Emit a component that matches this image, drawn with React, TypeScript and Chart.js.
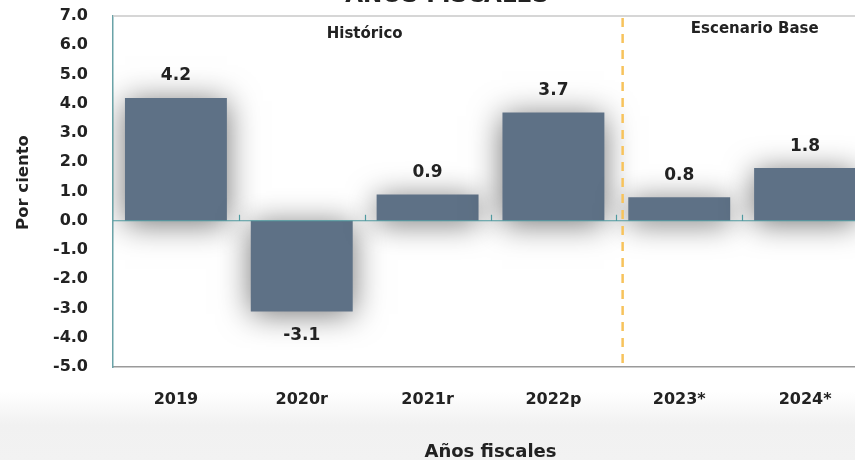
import React, { useEffect, useRef } from "react";
import { Chart, registerables } from "chart.js";

Chart.register(...registerables);

const categories = ["2019", "2020r", "2021r", "2022p", "2023*", "2024*"];
const growth = [4.2, -3.1, 0.9, 3.7, 0.8, 1.8];
const yMin = -5;
const yMax = 7;
const chartTitle = "AÑOS FISCALES";
const yTitle = "Por ciento";
const xTitle = "Años fiscales";
const sectionLabels = [
  { text: "Histórico", at: 1.5, dy: 18 },
  { text: "Escenario Base", at: 4.6, dy: 13 },
];
const dividerAt = 3.55;

const FONT = "'DejaVu Sans', sans-serif";
const TEXT = "#222222";

const decorPlugin = {
  id: "decor",
  beforeDatasetsDraw(chart: any) {
    const { ctx, chartArea } = chart;
    ctx.save();
    ctx.strokeStyle = "#c9c9c9";
    ctx.lineWidth = 1.5;
    ctx.beginPath();
    ctx.moveTo(chartArea.left, chartArea.top);
    ctx.lineTo(chartArea.right, chartArea.top);
    ctx.stroke();
    ctx.restore();
    ctx.save();
    ctx.shadowColor = "rgba(0,0,0,0.55)";
    ctx.shadowBlur = 30;
    ctx.shadowOffsetX = 0;
    ctx.shadowOffsetY = 3;
  },
  afterDatasetsDraw(chart: any) {
    const { ctx, chartArea, scales } = chart;
    ctx.restore();
    const x = scales.x;
    const y = scales.y;
    const y0 = y.getPixelForValue(0);
    const half = (x.getPixelForValue(1) - x.getPixelForValue(0)) / 2;
    ctx.save();
    ctx.strokeStyle = "#4f9aa0";
    ctx.lineWidth = 1.2;
    ctx.beginPath();
    ctx.moveTo(chartArea.left, y0);
    ctx.lineTo(chartArea.right, y0);
    for (let i = 0; i < categories.length - 1; i++) {
      const bx = Math.round(x.getPixelForValue(i) + half) + 0.5;
      ctx.moveTo(bx, y0);
      ctx.lineTo(bx, y0 - 6);
    }
    ctx.stroke();
    const dx = x.getPixelForValue(3) + (dividerAt - 3) * half * 2;
    ctx.strokeStyle = "#f7c35c";
    ctx.lineWidth = 2.5;
    ctx.setLineDash([9, 7]);
    ctx.beginPath();
    ctx.moveTo(dx, chartArea.top + 2);
    ctx.lineTo(dx, chartArea.bottom);
    ctx.stroke();
    ctx.setLineDash([]);
    ctx.fillStyle = TEXT;
    ctx.font = `700 17px ${FONT}`;
    ctx.textAlign = "center";
    ctx.textBaseline = "middle";
    growth.forEach((v, i) => {
      const px = x.getPixelForValue(i);
      const py = y.getPixelForValue(v) + (v >= 0 ? -22 : 24);
      ctx.fillText(v.toFixed(1), px, py);
    });
    ctx.font = `700 15px ${FONT}`;
    sectionLabels.forEach((s) => {
      const px = x.getPixelForValue(0) + s.at * half * 2;
      ctx.fillText(s.text, px, chartArea.top + s.dy);
    });
    ctx.save();
    ctx.font = `700 16.5px ${FONT}`;
    ctx.translate(24, (chartArea.top + chartArea.bottom) / 2 - 9);
    ctx.rotate(-Math.PI / 2);
    ctx.fillText(yTitle, 0, 0);
    ctx.restore();
    ctx.font = `700 23px ${FONT}`;
    ctx.textBaseline = "alphabetic";
    ctx.fillText(chartTitle, chart.width / 2, 22);
    ctx.restore();
  },
};

export default function App() {
  const ref = useRef<HTMLCanvasElement>(null);
  useEffect(() => {
    if (!ref.current) return;
    const chart = new Chart(ref.current, {
      type: "bar",
      data: {
        labels: categories,
        datasets: [
          {
            data: growth,
            backgroundColor: "#5e7186",
            borderWidth: 0,
            barPercentage: 0.81,
            categoryPercentage: 1,
          },
        ],
      },
      options: {
        responsive: false,
        animation: false,
        layout: { padding: { top: 36, right: 26, left: 0, bottom: 0 } },
        plugins: {
          legend: { display: false },
          tooltip: { enabled: false },
          title: { display: false },
        },
        scales: {
          x: {
            position: "bottom",
            grid: { display: false },
            border: { display: true, color: "#9a9a9a", width: 1.5 },
            ticks: {
              color: TEXT,
              font: { family: FONT, size: 16, weight: "bold" },
              padding: 15,
            },
            title: {
              display: true,
              text: xTitle,
              color: TEXT,
              font: { family: FONT, size: 18, weight: "bold" },
              padding: { top: 0, bottom: 7 },
            },
            afterFit: (s: any) => {
              s.height = 103;
            },
          },
          y: {
            min: yMin,
            max: yMax,
            grid: { display: false },
            border: { display: true, color: "#6aa3a8", width: 1.5 },
            ticks: {
              stepSize: 1,
              color: TEXT,
              font: { family: FONT, size: 16, weight: "bold" },
              padding: 17,
              callback: (v: any) => Number(v).toFixed(1),
            },
            title: { display: false },
            afterFit: (s: any) => {
              s.width = 113;
            },
          },
        },
      },
      plugins: [decorPlugin],
    });
    return () => chart.destroy();
  }, []);
  return (
    <div
      style={{
        position: "fixed",
        left: 0,
        top: 0,
        width: 855,
        height: 460,
        overflow: "hidden",
        background:
          "linear-gradient(to bottom, #ffffff 0px, #ffffff 392px, #f1f1f1 425px, #f2f2f2 460px)",
      }}
    >
      <canvas
        ref={ref}
        width={894}
        height={490}
        style={{ position: "absolute", left: 0, top: -20, width: 894, height: 490 }}
      />
    </div>
  );
}
